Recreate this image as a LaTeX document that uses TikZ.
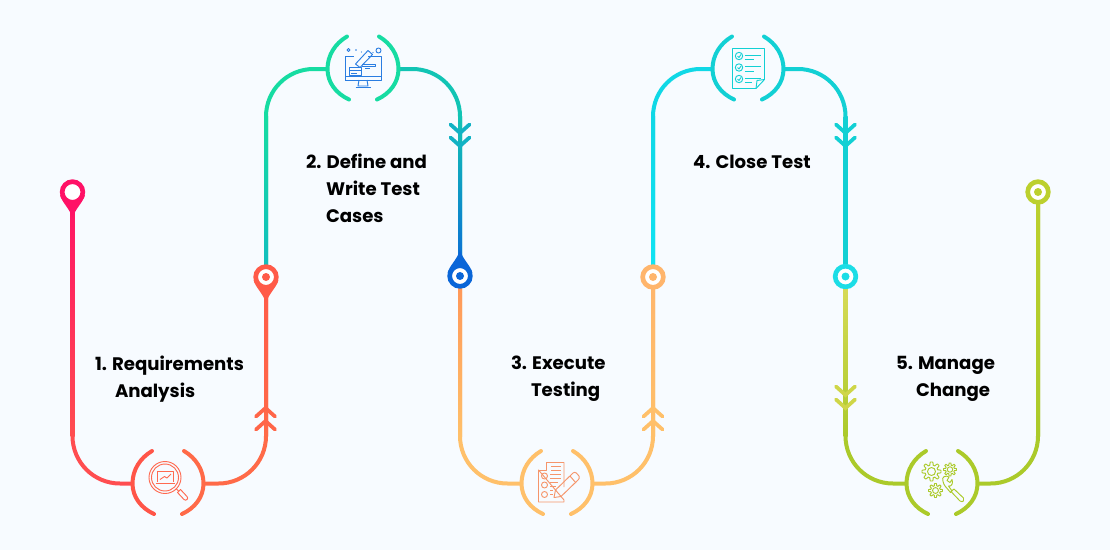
\documentclass[tikz,border=0pt]{standalone}
\usepackage{fontspec}
\setmainfont{Poppins}
\usetikzlibrary{positioning}

\definecolor{pagebg}{HTML}{F7FBFF}
\definecolor{stepA}{HTML}{FF5A48}
\definecolor{stepB}{HTML}{16DCA2}
\definecolor{stepC}{HTML}{FFC06A}
\definecolor{stepD}{HTML}{12D0D4}
\definecolor{stepE}{HTML}{ABCA2A}
\definecolor{rosePin}{HTML}{FF1166}
\definecolor{roseLow}{HTML}{FF4D50}
\definecolor{coralLow}{HTML}{FF6A48}
\definecolor{coralHub}{HTML}{FF5548}
\definecolor{coralChev}{HTML}{FF6548}
\definecolor{coralIcon}{HTML}{FF6A50}
\definecolor{tealLow}{HTML}{10BCC0}
\definecolor{tealTop}{HTML}{12C4B4}
\definecolor{tealChev}{HTML}{11B2C4}
\definecolor{bluePin}{HTML}{0A66D8}
\definecolor{blueIcon}{HTML}{2A7DE1}
\definecolor{peachTop}{HTML}{FF9558}
\definecolor{peachPin}{HTML}{FFB56C}
\definecolor{peachIcon}{HTML}{F5956B}
\definecolor{cyanTop}{HTML}{10D8E6}
\definecolor{cyanLow}{HTML}{10E4F4}
\definecolor{cyanPin}{HTML}{1CDDE6}
\definecolor{paleTop}{HTML}{DADC5A}
\definecolor{paleChev}{HTML}{CFD648}
\definecolor{limePin}{HTML}{BCD02E}

\tikzset{every picture/.style={line width=0.75pt}}
\tikzset{
	flowline/.style={line width=3pt,line cap=round,rounded corners=35.6pt},
	hubarc/.style={line width=3pt,line cap=round},
	iconline/.style={line width=0.7pt,line join=round},
	pinring/.style={circle,fill=white,line width=3.5pt,minimum size=15.5pt,inner sep=0pt,outer sep=0pt},
	hubspot/.style={circle,minimum size=54pt,inner sep=0pt,outer sep=0pt},
	steplabel/.style={font=\fontsize{13.6}{20.25}\selectfont\bfseries,align=left,anchor=west,inner sep=0pt,text=black}
}
% #1 top colour, #2 bottom colour, #3 upper end, #4 lower end
\newcommand{\riser}[4]{\shade[top color=#1,bottom color=#2] ([xshift=-1.5pt]#3) rectangle ([xshift=1.5pt]#4);}
% #1 hub, #2 left colour, #3 right colour
\newcommand{\hubarcs}[3]{
	\begin{scope}[shift={(#1)}]
		\draw [hubarc,#2] (-16,-32.5) .. controls (-28,-25.5) and (-35.5,-13.5) .. (-35.5,0) .. controls (-35.5,13.5) and (-27,24.5) .. (-14,30.5) ;
		\draw [hubarc,#3] (16,-32.5) .. controls (28,-25.5) and (35.5,-13.5) .. (35.5,0) .. controls (35.5,13.5) and (27,24.5) .. (14,30.5) ;
	\end{scope}
}
% #1 position of the upper tip, #2 colour, #3 1 for up and -1 for down
\newcommand{\chevrons}[3]{
	\begin{scope}[shift={(#1)},yscale=#3]
		\draw [hubarc,line width=2.8pt,#2] (-9.5,8.5) -- (0,0) -- (9.5,8.5) ;
		\draw [hubarc,line width=2.8pt,#2] (-9.5,21.5) -- (0,13) -- (9.5,21.5) ;
	\end{scope}
}
% #1 pin, #2 colour, #3 1 for down and -1 for up
\newcommand{\pintip}[3]{
	\begin{scope}[shift={(#1)},yscale=#3]
		\fill [#2] (-12.4,3) .. controls (-11,10) and (-3,16) .. (0,26) .. controls (3,16) and (11,10) .. (12.4,3) -- cycle ;
	\end{scope}
}
% #1 x, #2 y, #3 radius
\newcommand{\gearicon}[3]{
	\begin{scope}[shift={(#1,#2)}]
		\draw [iconline,stepE] plot[domain=0:360,samples=97] ({#3*(.84+.16*sign(cos(8*\x)))*cos(\x)},{#3*(.84+.16*sign(cos(8*\x)))*sin(\x)}) -- cycle ;
		\draw [iconline,stepE] (0,0) circle (#3*.42) ;
	\end{scope}
}

\begin{document}
\begin{tikzpicture}[x=0.75pt,y=0.75pt,yscale=-1,xscale=1]
	\useasboundingbox (0,0) rectangle (1110,550);
	\fill [pagebg] (0,0) rectangle (1110,550);

	% Pins and hubs
	\node [pinring,fill=none] (pinA) at (72.5,192) {};
	\node [pinring,fill=none] (pinB) at (266,277) {};
	\node [pinring,fill=none] (pinC) at (460,276) {};
	\node [pinring,fill=none] (pinD) at (653,277) {};
	\node [pinring,fill=none] (pinE) at (845.5,276.5) {};
	\node [pinring,fill=none] (pinF) at (1038,192) {};
	\node [hubspot] (hubA) at (168,483.5) {};
	\node [hubspot] (hubB) at (363,69) {};
	\node [hubspot] (hubC) at (557,483.5) {};
	\node [hubspot] (hubD) at (748,69) {};
	\node [hubspot] (hubE) at (942,483.5) {};

	\coordinate (bendAL) at (72.5,436);
	\coordinate (bendAR) at (266,436);
	\coordinate (bendBL) at (266,116.5);
	\coordinate (bendBR) at (460,116.5);
	\coordinate (bendCL) at (460,436);
	\coordinate (bendCR) at (653,436);
	\coordinate (bendDL) at (653,116.5);
	\coordinate (bendDR) at (845.5,116.5);
	\coordinate (bendEL) at (845.5,436);
	\coordinate (bendER) at (1038,436);

	% Flow lines
	\draw [flowline,color=roseLow] (pinA) |- (hubA.west) ;
	\draw [flowline,color=coralLow] (pinB) |- (hubA.east) ;
	\draw [flowline,color=stepB] (pinB) |- (hubB.west) ;
	\draw [flowline,color=tealTop] (pinC) |- (hubB.east) ;
	\draw [flowline,color=stepC] (pinC) |- (hubC.west) ;
	\draw [flowline,color=stepC] (pinD) |- (hubC.east) ;
	\draw [flowline,color=cyanTop] (pinD) |- (hubD.west) ;
	\draw [flowline,color=stepD] (pinE) |- (hubD.east) ;
	\draw [flowline,color=stepE] (pinE) |- (hubE.west) ;
	\draw [flowline,color=stepE] (pinF) |- (hubE.east) ;

	% Colour runs on the straight parts
	\riser{rosePin}{roseLow}{pinA}{bendAL}
	\riser{stepA}{coralLow}{pinB}{bendAR}
	\riser{stepB}{tealLow}{bendBL}{pinB}
	\riser{tealTop}{bluePin}{bendBR}{pinC}
	\riser{peachTop}{stepC}{pinC}{bendCL}
	\riser{peachPin}{stepC}{pinD}{bendCR}
	\riser{cyanTop}{cyanLow}{bendDL}{pinD}
	\riser{stepD}{stepD}{bendDR}{pinE}
	\riser{paleTop}{stepE}{pinE}{bendEL}
	\riser{limePin}{stepE}{pinF}{bendER}

	% Hub arcs
	\hubarcs{hubA}{coralHub}{coralLow}
	\hubarcs{hubB}{stepB}{stepB}
	\hubarcs{hubC}{stepC}{stepC}
	\hubarcs{hubD}{stepD}{stepD}
	\hubarcs{hubE}{stepE}{stepE}

	% Chevrons
	\chevrons{265.5,408}{coralChev}{1}
	\chevrons{460,146}{tealChev}{-1}
	\chevrons{653,408}{stepC}{1}
	\chevrons{845.5,146}{stepD}{-1}
	\chevrons{845.5,408}{paleChev}{-1}

	% Pin heads
	\pintip{pinA}{rosePin}{1}
	\pintip{pinB}{stepA}{1}
	\pintip{pinC}{bluePin}{-1}
	\node [pinring,draw=rosePin] at (pinA) {};
	\node [pinring,draw=stepA] at (pinB) {};
	\node [pinring,draw=bluePin] at (pinC) {};
	\node [pinring,draw=peachPin] at (pinD) {};
	\node [pinring,draw=cyanPin] at (pinE) {};
	\node [pinring,draw=limePin] at (pinF) {};
	\fill [stepA] (pinB) circle (4) ;
	\fill [bluePin] (pinC) circle (4) ;
	\fill [peachPin] (pinD) circle (4) ;
	\fill [cyanPin] (pinE) circle (4) ;
	\fill [limePin] (pinF) circle (4) ;

	%Icon: magnifier over laptop
	\draw [iconline,coralIcon] (165,477.5) circle (16) ;
	\draw [iconline,coralIcon] (165,477.5) circle (13.5) ;
	\draw [iconline,coralIcon] (157,482) -- (157,471.5) -- (173,471.5) -- (173,482) ;
	\draw [iconline,coralIcon] (155.5,483.5) -- (174.5,483.5) ;
	\draw [iconline,coralIcon] (160,479.5) -- (164.5,476.5) -- (167,478) -- (171,474) ;
	\draw [iconline,coralIcon] (176,488.5) -- (179,491.5) ;
	\draw [iconline,coralIcon] (177.5,492.5) -- (184,499.5) .. controls (186,501.5) and (189,498.5) .. (187,496.5) -- (180.5,489.5) -- cycle ;

	%Icon: monitor and pencil
	\draw [iconline,blueIcon] (345,80) -- (345,56) -- (354,56) ;
	\draw [iconline,blueIcon] (368,56) -- (381,56) -- (381,80) -- (345,80) ;
	\draw [iconline,blueIcon] (345,76.5) -- (381,76.5) ;
	\draw [iconline,blueIcon] (359,80) -- (358,86) -- (368,86) -- (367,80) ;
	\draw [iconline,blueIcon] (355.5,87.5) -- (370.5,87.5) ;
	\draw [iconline,blueIcon] (355.5,64) -- (368,50.5) -- (372.5,54.5) -- (360,67.5) -- cycle ;
	\draw [iconline,blueIcon] (349.5,67.5) rectangle (361,75.5) ;
	\draw [iconline,blueIcon] (349.5,70.5) -- (361,70.5) (351,73) -- (357,73) ;
	\draw [iconline,blueIcon] (362,64.5) -- (375,64.5) -- (375,66.5) -- (362,66.5) (365,68.5) -- (370,68.5) ;
	\draw [iconline,blueIcon] (348.5,50) circle (1.5) (378.5,50.5) circle (2.5) ;
	\fill [blueIcon] (356,50) circle (.8) (361.5,52) circle (.6) (373,52.5) circle (.6) ;

	%Icon: sheet and pencil
	\draw [iconline,peachIcon] (546,462.5) -- (564,462.5) -- (564,487) (564,500) -- (564,502) -- (538.5,502) -- (538.5,470) -- cycle ;
	\draw [iconline,peachIcon] (538.5,470) -- (546,470) -- (546,462.5) ;
	\draw [iconline,peachIcon] (544.5,476) circle (3) (544.5,485) circle (3) (544.5,494.5) circle (3) ;
	\draw [iconline,peachIcon] (551,466) -- (561,466) (551,470) -- (561,470) (550,474) -- (561,474) (550,478) -- (561,478) (550,482) -- (558,482) (550,486) -- (556,486) (550,490) -- (553,490) (550,494) -- (553,494) ;
	\draw [iconline,peachIcon] (554,497.5) -- (555.5,490) -- (573,473) .. controls (575,471) and (578,474) .. (579,476) .. controls (580,478) and (579,479) .. (578,480) -- (561,496.5) -- cycle ;
	\draw [iconline,peachIcon] (570,476) -- (576,483) ;

	%Icon: checklist
	\draw [iconline,stepD] (732.5,48.5) -- (764.5,48.5) -- (764.5,79.5) -- (756,88.5) -- (732.5,88.5) -- cycle ;
	\draw [iconline,stepD] (764.5,79.5) -- (757,80.5) -- (756,88.5) ;
	\draw [iconline,stepD] (739,56) circle (3.7) (739,67.5) circle (3.7) (739,79) circle (3.7) ;
	\draw [iconline,stepD] (737.5,56) -- (739,57.5) -- (741,54.5) (737.5,67.5) -- (739,69) -- (741,66) (737.5,79) -- (739,80.5) -- (741,77.5) ;
	\draw [iconline,stepD] (744.5,55) -- (761,55) (744.5,59.5) -- (754,59.5) (744.5,66.5) -- (761,66.5) (744.5,71) -- (754,71) (744.5,78) -- (761,78) (744.5,82.5) -- (752,82.5) ;

	%Icon: gears and wrench
	\gearicon{931.5}{471.5}{9.5}
	\gearicon{950}{469.5}{6.5}
	\gearicon{935.5}{490.5}{7}
	\draw [iconline,stepE] (943,481.5) .. controls (941,476.5) and (946,475) .. (949,477) -- (947,480.5) -- (950,482.5) -- (952,479.5) .. controls (953.5,483) and (951.5,487) .. (948.5,486) -- (952,491) -- (950.5,492.5) -- (945,486) .. controls (944,485) and (943.5,483) .. (943,481.5) ;
	\draw [iconline,stepE] (951,491.5) -- (960,501) .. controls (963,503) and (965,500) .. (963.5,498) -- (954,489) -- cycle ;

	% Text Node
	\node [steplabel] (labelA) at (94.5,379) {1. Requirements\\[0pt]\hspace*{15pt}Analysis};
	% Text Node
	\node [steplabel] (labelB) at (305.5,188.5) {2. Define and\\[0pt]\hspace*{15pt}Write Test\\[0pt]\hspace*{15pt}Cases};
	% Text Node
	\node [steplabel] (labelC) at (510.5,379) {3. Execute\\[0pt]\hspace*{15pt}Testing};
	% Text Node
	\node [steplabel] (labelD) at (692.5,161.5) {4. Close Test};
	% Text Node
	\node [steplabel] (labelE) at (895.5,379) {5. Manage\\[0pt]\hspace*{15pt}Change};
\end{tikzpicture}
\end{document}
